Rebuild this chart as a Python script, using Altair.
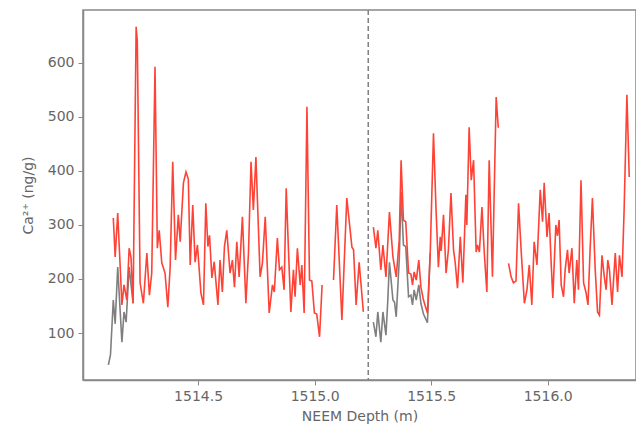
import altair as alt
import pandas as pd

# calibrated Ca2+ record, four continuous runs
red_depth = [
    [1514.136, 1514.144, 1514.155, 1514.173, 1514.182, 1514.194, 1514.204, 1514.212, 1514.221, 1514.234,
     1514.239, 1514.251, 1514.265, 1514.280, 1514.291, 1514.301, 1514.315, 1514.325, 1514.333, 1514.344,
     1514.358, 1514.370, 1514.380, 1514.391, 1514.403, 1514.415, 1514.423, 1514.437, 1514.448, 1514.458,
     1514.466, 1514.477, 1514.487, 1514.497, 1514.512, 1514.523, 1514.533, 1514.542, 1514.549, 1514.559,
     1514.569, 1514.585, 1514.594, 1514.604, 1514.613, 1514.623, 1514.637, 1514.647, 1514.656, 1514.666,
     1514.676, 1514.690, 1514.705, 1514.716, 1514.727, 1514.737, 1514.748, 1514.756, 1514.766, 1514.776,
     1514.788, 1514.805, 1514.819, 1514.827, 1514.840, 1514.849, 1514.859, 1514.869, 1514.878, 1514.888,
     1514.898, 1514.909, 1514.916, 1514.926, 1514.938, 1514.945, 1514.955, 1514.967, 1514.978, 1514.988,
     1514.999, 1515.009, 1515.021, 1515.032],
    [1515.081, 1515.095, 1515.117, 1515.138, 1515.160, 1515.167, 1515.178, 1515.191, 1515.209],
    [1515.252, 1515.263, 1515.271, 1515.284, 1515.293, 1515.306, 1515.321, 1515.336, 1515.350, 1515.363,
     1515.371, 1515.381, 1515.391, 1515.403, 1515.413, 1515.420, 1515.427, 1515.436, 1515.447, 1515.456,
     1515.467, 1515.484, 1515.496, 1515.510, 1515.521, 1515.531, 1515.539, 1515.543, 1515.553, 1515.564,
     1515.574, 1515.585, 1515.596, 1515.603, 1515.613, 1515.625, 1515.636, 1515.649, 1515.653, 1515.663,
     1515.672, 1515.682, 1515.693, 1515.699, 1515.707, 1515.718, 1515.728, 1515.739, 1515.749, 1515.763,
     1515.779, 1515.788],
    [1515.832, 1515.843, 1515.853, 1515.864, 1515.875, 1515.886, 1515.900, 1515.911, 1515.921, 1515.932,
     1515.942, 1515.954, 1515.968, 1515.978, 1515.985, 1515.997, 1516.006, 1516.015, 1516.022, 1516.035,
     1516.042, 1516.049, 1516.058, 1516.068, 1516.075, 1516.085, 1516.092, 1516.104, 1516.114, 1516.125,
     1516.132, 1516.143, 1516.154, 1516.164, 1516.173, 1516.182, 1516.192, 1516.204, 1516.214, 1516.222,
     1516.233, 1516.243, 1516.251, 1516.258, 1516.265, 1516.276, 1516.290, 1516.300, 1516.308, 1516.319,
     1516.328, 1516.340, 1516.350],
]
red_ca = [
    [313, 241, 322, 152, 189, 161, 257, 240, 155, 667, 640, 193, 155, 248, 170, 211, 593, 257, 290, 230,
     211, 148, 222, 417, 235, 319, 269, 378, 398, 385, 226, 337, 231, 263, 174, 152, 340, 260, 281, 202,
     232, 152, 235, 176, 260, 290, 211, 235, 185, 269, 204, 315, 155, 248, 417, 328, 426, 328, 204, 230,
     315, 137, 189, 176, 276, 217, 222, 180, 368, 250, 139, 217, 167, 257, 189, 226, 137, 519, 198, 196,
     137, 135, 93, 189],
    [198, 337, 124, 350, 259, 254, 152, 231, 139],
    [296, 257, 290, 217, 263, 204, 324, 241, 204, 272, 420, 309, 306, 211, 209, 189, 213, 198, 235, 185,
     161, 137, 248, 470, 328, 222, 278, 252, 319, 211, 254, 359, 254, 231, 183, 278, 193, 356, 300, 481,
     383, 420, 250, 263, 250, 333, 248, 176, 420, 204, 537, 480],
    [229, 204, 193, 196, 340, 254, 155, 180, 226, 152, 269, 226, 365, 306, 378, 278, 322, 229, 165, 300,
     280, 309, 189, 167, 217, 254, 211, 257, 155, 235, 180, 383, 193, 176, 152, 254, 350, 217, 139, 133,
     244, 204, 180, 235, 217, 152, 248, 176, 244, 204, 328, 541, 389],
]

# raw record, only where it departs from the calibrated one
grey_depth = [
    [1514.115, 1514.124, 1514.136, 1514.144, 1514.155, 1514.173, 1514.182, 1514.191, 1514.204, 1514.221],
    [1515.252, 1515.263, 1515.271, 1515.284, 1515.293, 1515.306, 1515.314, 1515.321, 1515.336, 1515.343,
     1515.350, 1515.363, 1515.371, 1515.381, 1515.391, 1515.403, 1515.413, 1515.420, 1515.427, 1515.436,
     1515.447, 1515.456, 1515.467, 1515.484, 1515.496],
]
grey_ca = [
    [41, 60, 161, 117, 222, 83, 139, 120, 222, 155],
    [120, 93, 139, 83, 139, 96, 161, 231, 161, 157, 130, 235, 361, 263, 260, 167, 170, 152, 180, 161,
     189, 155, 135, 119, 248],
]

marker_depth = 1515.23


def frame(depths, values, tag):
    rows = []
    for i, (ds, vs) in enumerate(zip(depths, values)):
        for d, v in zip(ds, vs):
            rows.append({"depth": d, "ca": v, "seg": f"{tag}{i}"})
    return pd.DataFrame(rows)


x_scale = alt.Scale(domain=[1514.006, 1516.379], nice=False, zero=False)
y_scale = alt.Scale(domain=[13, 698], nice=False, zero=False)

x_enc = alt.X("depth:Q", scale=x_scale, title="NEEM Depth (m)",
              axis=alt.Axis(values=[1514.5, 1515.0, 1515.5, 1516.0], format=".1f", grid=False))
y_enc = alt.Y("ca:Q", scale=y_scale, title="Ca²⁺ (ng/g)",
              axis=alt.Axis(values=[100, 200, 300, 400, 500, 600], grid=False))

grey = alt.Chart(frame(grey_depth, grey_ca, "g")).mark_line(
    color="#7f7f7f", strokeWidth=1.6
).encode(x=x_enc, y=y_enc, detail="seg:N")

red = alt.Chart(frame(red_depth, red_ca, "r")).mark_line(
    color="#ff4236", strokeWidth=1.6
).encode(x=x_enc, y=y_enc, detail="seg:N")

marker = alt.Chart(pd.DataFrame({"depth": [marker_depth]})).mark_rule(
    color="#808080", strokeDash=[5, 3], strokeWidth=1.5
).encode(x="depth:Q")

chart = (
    alt.layer(grey, red, marker)
    .properties(width=553, height=370, autosize=alt.AutoSizeParams(type="none"),
                padding={"left": 75, "top": 2, "right": 0, "bottom": 48})
    .configure_view(stroke="#888888", strokeWidth=1.5)
    .configure_axis(
        labelFont="DejaVu Sans", titleFont="DejaVu Sans", labelFontSize=14, titleFontSize=14,
        labelColor="#666666", titleColor="#666666", titleFontWeight="normal",
        domainColor="#888888", domainWidth=1.5, tickColor="#888888", tickSize=5, labelPadding=4,
    )
    .configure_axisX(titlePadding=6)
    .configure_axisY(titlePadding=12)
)

chart.save("out.html", embed_options={"renderer": "svg", "actions": False})
